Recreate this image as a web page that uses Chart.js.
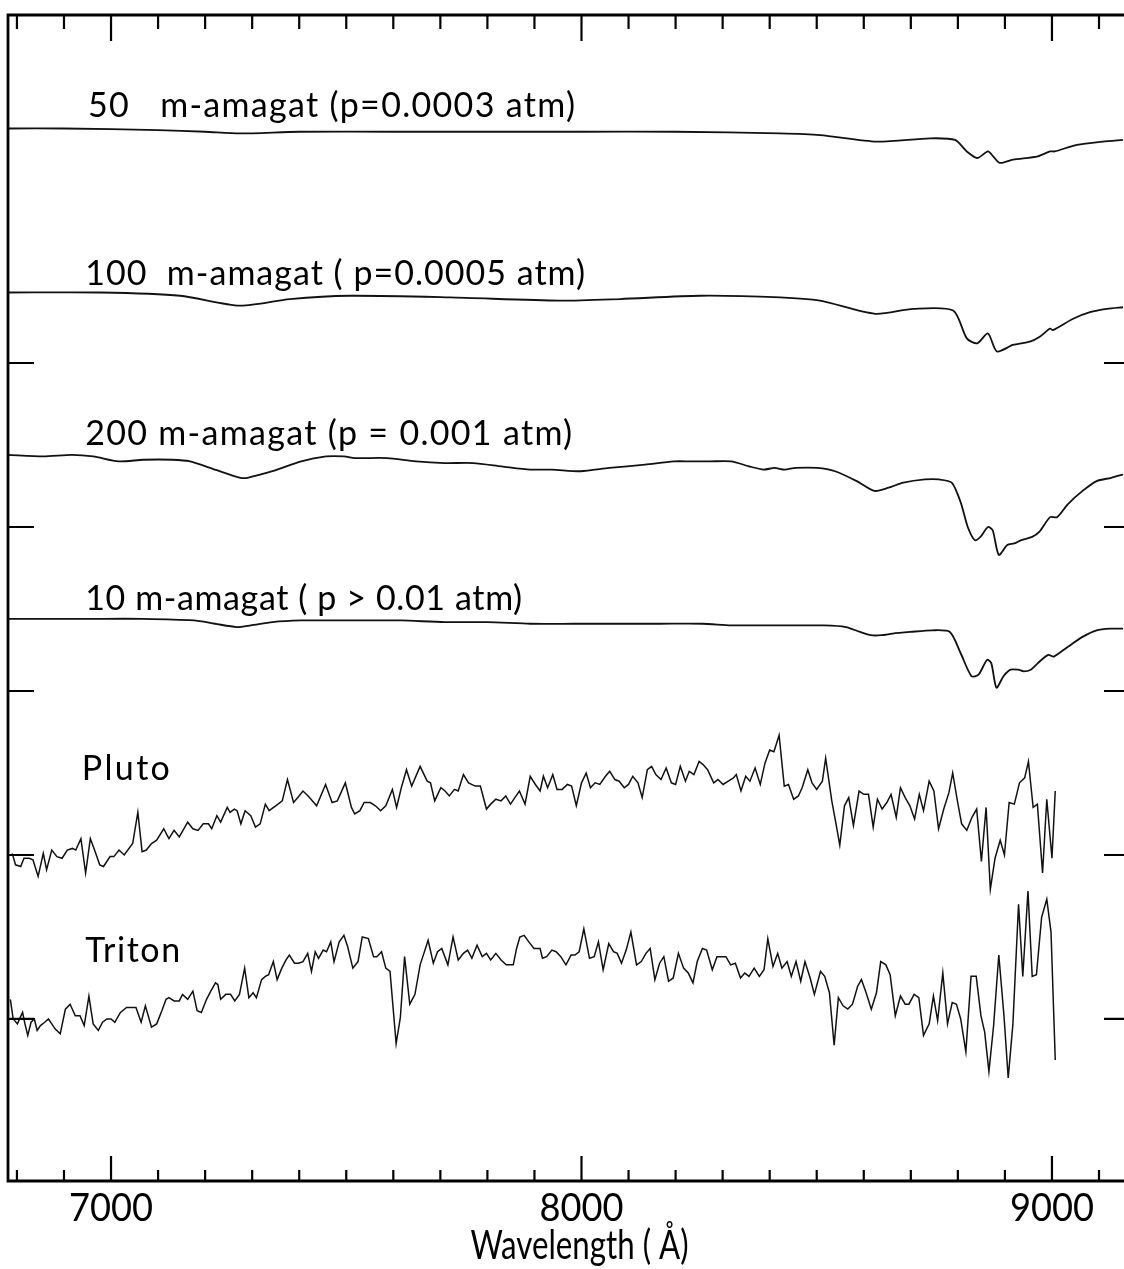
<!DOCTYPE html>
<html><head><meta charset="utf-8">
<script src="https://cdn.jsdelivr.net/npm/chart.js@4.4.1/dist/chart.umd.min.js"></script>
<style>html,body{margin:0;padding:0;background:#fff;}#wrap{width:1124px;height:1269px;position:relative;}</style>
</head><body><div id="wrap"><canvas id="c"></canvas></div>
<script>
// ---- data (wavelength in Angstrom, relative intensity with vertical offsets) ----
const am50_wl = [6781,6900,7100,7200,7274,7400,7600,7800,8000,8200,8422,8507,8628,8741,8794,8819,8841,8864,8875,8889,8917,8970,8996,9006,9053,9108,9151];
const am50_flux = [6.43,6.43,6.42,6.41,6.40,6.41,6.41,6.41,6.41,6.41,6.40,6.39,6.35,6.37,6.36,6.29,6.25,6.29,6.26,6.22,6.24,6.26,6.29,6.29,6.33,6.35,6.36];

const am100_wl = [6781,6977,7147,7274,7380,7508,7720,7954,8082,8252,8422,8507,8624,8705,8790,8819,8841,8864,8883,8917,8953,8974,8996,9002,9045,9081,9117,9151];
const am100_flux = [5.43,5.43,5.41,5.35,5.39,5.41,5.40,5.38,5.39,5.41,5.40,5.38,5.30,5.33,5.32,5.15,5.12,5.18,5.07,5.11,5.13,5.16,5.21,5.20,5.27,5.31,5.33,5.34];

const am200_wl = [6781,6856,6917,6962,7016,7069,7130,7168,7221,7275,7290,7343,7404,7457,7495,7518,7534,7587,7648,7709,7770,7830,7891,7937,7998,8059,8135,8196,8234,8273,8318,8356,8387,8410,8432,8455,8501,8539,8585,8623,8653,8684,8730,8760,8787,8806,8821,8836,8848,8864,8874,8887,8905,8920,8935,8958,8973,8996,9011,9034,9065,9095,9126,9151];
const am200_flux = [4.44,4.43,4.44,4.43,4.40,4.41,4.41,4.40,4.35,4.30,4.30,4.34,4.40,4.43,4.43,4.42,4.42,4.42,4.40,4.39,4.39,4.37,4.35,4.35,4.34,4.36,4.38,4.40,4.40,4.40,4.40,4.37,4.35,4.36,4.35,4.36,4.36,4.34,4.28,4.22,4.24,4.27,4.29,4.29,4.27,4.15,4.00,3.92,3.94,4.00,3.98,3.83,3.89,3.90,3.92,3.94,3.97,4.06,4.06,4.14,4.22,4.28,4.30,4.32];

const am10_wl = [6781,6947,7069,7176,7221,7267,7297,7343,7404,7465,7556,7617,7709,7800,7892,7983,8074,8166,8257,8318,8379,8440,8516,8562,8592,8615,8638,8661,8699,8745,8783,8806,8829,8844,8862,8871,8882,8897,8912,8928,8940,8955,8970,8992,9004,9034,9065,9095,9126,9151];
const am10_flux = [3.44,3.44,3.44,3.43,3.41,3.39,3.40,3.42,3.43,3.43,3.43,3.43,3.42,3.42,3.41,3.41,3.41,3.41,3.41,3.40,3.40,3.40,3.40,3.39,3.36,3.34,3.34,3.35,3.36,3.37,3.36,3.23,3.09,3.10,3.19,3.17,3.02,3.09,3.13,3.13,3.12,3.13,3.17,3.22,3.21,3.27,3.33,3.37,3.38,3.38];

const pluto_wl = [6790,6797,6808,6815,6826,6834,6845,6856,6863,6874,6885,6896,6907,6918,6925,6936,6946,6956,6965,6976,6984,6998,7006,7017,7028,7046,7057,7066,7075,7086,7097,7112,7123,7134,7145,7163,7174,7185,7196,7207,7214,7225,7233,7247,7253,7262,7268,7276,7285,7297,7307,7317,7328,7336,7350,7364,7375,7388,7397,7408,7419,7437,7456,7470,7481,7498,7511,7518,7529,7538,7551,7562,7573,7584,7598,7607,7617,7628,7639,7657,7672,7679,7688,7701,7710,7719,7730,7738,7749,7760,7774,7785,7798,7807,7818,7829,7839,7849,7861,7868,7880,7891,7902,7912,7919,7928,7939,7948,7959,7970,7979,7989,8000,8010,8019,8029,8039,8051,8060,8071,8080,8091,8100,8109,8120,8129,8140,8149,8158,8169,8180,8191,8200,8210,8221,8229,8239,8250,8259,8268,8281,8290,8301,8312,8323,8329,8339,8349,8358,8369,8380,8390,8400,8409,8420,8431,8440,8451,8461,8469,8481,8490,8500,8512,8519,8532,8541,8549,8559,8568,8578,8590,8600,8610,8620,8629,8639,8649,8658,8669,8678,8688,8698,8708,8718,8727,8739,8749,8759,8770,8781,8789,8799,8808,8819,8830,8840,8850,8860,8869,8879,8890,8899,8909,8920,8931,8942,8950,8960,8969,8980,8989,9000,9007];
const pluto_flux = [2.01,1.94,1.93,1.98,1.98,1.97,1.87,2.01,1.91,2.03,1.99,1.98,2.03,2.04,2.03,2.10,1.89,2.10,2.03,1.94,1.93,1.99,1.99,2.03,2.00,2.07,2.26,2.02,2.03,2.07,2.09,2.16,2.10,2.15,2.11,2.20,2.16,2.15,2.19,2.19,2.16,2.24,2.20,2.29,2.26,2.28,2.27,2.19,2.27,2.24,2.17,2.19,2.31,2.27,2.30,2.33,2.46,2.32,2.35,2.39,2.36,2.30,2.43,2.32,2.33,2.44,2.29,2.25,2.27,2.32,2.32,2.30,2.27,2.30,2.40,2.29,2.41,2.52,2.42,2.54,2.45,2.44,2.33,2.41,2.39,2.36,2.40,2.39,2.49,2.44,2.42,2.42,2.28,2.31,2.34,2.33,2.36,2.31,2.36,2.39,2.31,2.48,2.43,2.39,2.48,2.41,2.49,2.40,2.40,2.43,2.42,2.30,2.44,2.50,2.41,2.44,2.43,2.48,2.51,2.46,2.45,2.41,2.43,2.48,2.44,2.35,2.52,2.54,2.49,2.46,2.53,2.44,2.43,2.54,2.45,2.51,2.49,2.57,2.55,2.52,2.44,2.46,2.43,2.45,2.47,2.49,2.39,2.48,2.45,2.53,2.43,2.56,2.64,2.63,2.73,2.42,2.43,2.34,2.36,2.41,2.52,2.44,2.40,2.45,2.59,2.33,2.19,2.06,2.30,2.35,2.18,2.39,2.37,2.37,2.17,2.34,2.28,2.32,2.37,2.23,2.41,2.35,2.30,2.22,2.37,2.27,2.45,2.39,2.16,2.28,2.38,2.50,2.33,2.19,2.15,2.23,2.28,1.96,2.29,1.79,1.98,2.09,2.00,2.32,2.31,2.44,2.47,2.57,2.29,2.31,1.89,2.34,1.98,2.39];

const triton_wl = [6786,6792,6801,6807,6812,6817,6823,6830,6837,6843,6850,6859,6867,6874,6881,6892,6903,6913,6924,6934,6943,6953,6962,6973,6982,6991,7000,7008,7020,7033,7046,7053,7064,7073,7086,7097,7108,7117,7123,7134,7145,7152,7163,7174,7183,7192,7203,7212,7222,7227,7233,7244,7254,7263,7273,7284,7293,7302,7309,7320,7328,7335,7345,7353,7363,7372,7379,7390,7399,7408,7418,7426,7434,7441,7451,7458,7467,7474,7485,7495,7503,7514,7525,7534,7547,7558,7565,7575,7584,7593,7606,7615,7624,7635,7646,7657,7674,7685,7694,7703,7716,7727,7738,7749,7758,7767,7778,7789,7798,7807,7818,7829,7840,7855,7862,7869,7878,7888,7899,7912,7917,7926,7937,7946,7956,7967,7978,7986,7995,8005,8017,8027,8036,8046,8058,8068,8076,8085,8095,8105,8117,8127,8137,8146,8156,8166,8175,8185,8195,8206,8217,8227,8237,8246,8257,8266,8278,8288,8297,8307,8317,8327,8338,8347,8356,8367,8378,8388,8396,8407,8417,8426,8437,8446,8456,8466,8475,8486,8495,8508,8517,8527,8537,8546,8556,8566,8576,8587,8595,8605,8616,8627,8636,8647,8656,8667,8678,8688,8696,8707,8717,8727,8739,8748,8757,8768,8778,8788,8797,8806,8817,8828,8839,8849,8857,8866,8876,8887,8898,8907,8917,8929,8938,8949,8958,8967,8978,8989,8998,9007];
const triton_flux = [1.12,1.00,0.97,1.01,1.04,0.97,0.90,0.98,1.00,0.93,0.96,0.98,1.00,0.97,0.94,0.91,1.06,1.09,1.02,1.02,0.96,1.14,0.97,0.93,0.98,1.00,1.00,0.98,1.04,1.07,1.07,1.07,0.98,1.08,0.95,0.97,1.05,1.12,1.13,1.11,1.11,1.15,1.12,1.17,1.05,1.04,1.12,1.17,1.22,1.21,1.12,1.15,1.15,1.11,1.15,1.31,1.13,1.16,1.13,1.24,1.26,1.27,1.35,1.24,1.31,1.36,1.39,1.34,1.34,1.35,1.40,1.29,1.41,1.37,1.42,1.41,1.47,1.35,1.47,1.51,1.44,1.31,1.35,1.50,1.49,1.38,1.38,1.41,1.31,1.29,0.85,1.01,1.38,1.09,1.15,1.33,1.48,1.34,1.41,1.43,1.33,1.50,1.36,1.40,1.42,1.37,1.45,1.38,1.40,1.36,1.40,1.36,1.33,1.33,1.43,1.50,1.51,1.47,1.43,1.43,1.37,1.38,1.42,1.41,1.38,1.33,1.39,1.39,1.41,1.55,1.37,1.38,1.47,1.30,1.46,1.41,1.40,1.34,1.42,1.53,1.33,1.35,1.40,1.43,1.24,1.34,1.38,1.23,1.25,1.40,1.31,1.28,1.22,1.35,1.43,1.42,1.30,1.38,1.38,1.38,1.33,1.34,1.25,1.28,1.26,1.31,1.26,1.30,1.49,1.32,1.40,1.31,1.35,1.26,1.35,1.23,1.35,1.25,1.15,1.29,1.26,1.16,0.84,1.13,1.08,1.06,1.09,1.20,1.24,1.16,1.06,1.16,1.35,1.33,1.27,1.02,1.14,1.09,1.09,1.15,1.13,0.90,0.97,1.14,0.99,1.28,0.97,1.10,1.09,1.00,0.80,1.26,1.26,1.02,0.92,0.68,0.96,1.39,1.02,0.64,0.97,1.70,1.26,1.78,1.26,1.27,1.62,1.73,1.53,0.75];

const xTickValues = [7000, 8000, 9000];
const xTickLabels = ['7000', '8000', '9000'];
const xMinorTicks = [6800,6900,7000,7100,7200,7300,7400,7500,7600,7700,7800,7900,8000,8100,8200,8300,8400,8500,8600,8700,8800,8900,9000,9100];
const yTicks = [1, 2, 3, 4, 5];
const xTitle = 'Wavelength ( Å)';
const seriesNames = ['50   m-amagat (p=0.0003 atm)', '100  m-amagat ( p=0.0005 atm)', '200 m-amagat (p = 0.001 atm)', '10 m-amagat ( p > 0.01 atm)', 'Pluto', 'Triton'];

// ---- label placement (data coordinates) and styling ----
const labelAnchorWl = [6951, 6945, 6945, 6945, 6938, 6945];
const labelAnchorY = [6.50, 5.476, 4.50, 3.494, 2.457, 1.348];
const labelWidthPx = [487, 500, 487, 437, 88, 95];
const FONT = 'Lato, "DejaVu Sans", sans-serif';

function pts(wl, fl) { return wl.map((w, i) => ({x: w, y: fl[i]})); }
const series = [
  {wl: am50_wl, fl: am50_flux, smooth: true},
  {wl: am100_wl, fl: am100_flux, smooth: true},
  {wl: am200_wl, fl: am200_flux, smooth: true},
  {wl: am10_wl, fl: am10_flux, smooth: true},
  {wl: pluto_wl, fl: pluto_flux, smooth: false},
  {wl: triton_wl, fl: triton_flux, smooth: false}
];

function fitText(ctx, t, px, py, width, align) {
  ctx.letterSpacing = '0px';
  const w = ctx.measureText(t).width;
  const sx = width / w;
  ctx.save();
  ctx.translate(px, py);
  ctx.scale(sx, 1);
  ctx.textAlign = align;
  ctx.fillText(t, 0, 0);
  ctx.restore();
}

const framePlugin = {
  id: 'frame',
  afterDraw(chart) {
    const {ctx, chartArea: a, scales} = chart;
    const x = scales.x, y = scales.y;
    ctx.save();
    ctx.strokeStyle = '#000';
    ctx.lineWidth = 2.8;
    ctx.lineCap = 'butt';
    // frame: left, top and bottom (right edge lies at the picture border)
    ctx.beginPath();
    ctx.moveTo(a.right + 2, a.top); ctx.lineTo(a.left, a.top);
    ctx.lineTo(a.left, a.bottom); ctx.lineTo(a.right + 2, a.bottom);
    ctx.stroke();
    ctx.lineWidth = 2.2;
    for (const w of xMinorTicks) {
      const px = x.getPixelForValue(w);
      const major = xTickValues.includes(w);
      ctx.beginPath();
      ctx.moveTo(px, a.bottom); ctx.lineTo(px, a.bottom - (major ? 25 : 11));
      ctx.moveTo(px, a.top); ctx.lineTo(px, a.top + (major ? 26 : 14));
      ctx.stroke();
    }
    for (const v of yTicks) {
      const py = y.getPixelForValue(v);
      ctx.beginPath();
      ctx.moveTo(a.left, py); ctx.lineTo(a.left + 26, py);
      ctx.moveTo(a.right + 2, py); ctx.lineTo(a.right - 19, py);
      ctx.stroke();
    }
    ctx.fillStyle = '#000';
    ctx.textBaseline = 'alphabetic';
    // x tick labels
    ctx.font = '39px ' + FONT;
    xTickValues.forEach((v, i) => {
      fitText(ctx, xTickLabels[i], x.getPixelForValue(v), a.bottom + 40, 84, 'center');
    });
    // axis title
    ctx.font = '40px ' + FONT;
    fitText(ctx, xTitle, x.getPixelForValue(8000) - 2, a.bottom + 78, 218, 'center');
    // series labels
    ctx.font = '34px ' + FONT;
    ctx.textAlign = 'left';
    seriesNames.forEach((t, i) => {
      const px = x.getPixelForValue(labelAnchorWl[i]);
      const py = y.getPixelForValue(labelAnchorY[i]);
      ctx.letterSpacing = '0px';
      const w = ctx.measureText(t).width;
      const n = [...t].length;
      const ls = (labelWidthPx[i] - w) / Math.max(1, n - 1);
      ctx.letterSpacing = ls.toFixed(2) + 'px';
      ctx.fillText(t, px, py);
    });
    ctx.letterSpacing = '0px';
    ctx.restore();
  }
};

new Chart(document.getElementById('c'), {
  type: 'line',
  data: {
    datasets: series.map((s, i) => ({
      label: seriesNames[i],
      data: pts(s.wl, s.fl),
      borderColor: '#111',
      borderWidth: s.smooth ? 1.8 : 1.5,
      pointRadius: 0,
      tension: s.smooth ? 0.25 : 0,
      fill: false
    }))
  },
  options: {
    responsive: true,
    maintainAspectRatio: false,
    animation: false,
    layout: {padding: {left: 8, top: 15, right: 1, bottom: 0}},
    plugins: {legend: {display: false}, tooltip: {enabled: false}},
    scales: {
      x: {
        type: 'linear', min: 6781, max: 9151, position: 'bottom',
        grid: {display: false, drawTicks: false},
        border: {display: false},
        ticks: {display: false, stepSize: 1000, includeBounds: false},
        title: {display: false},
        afterFit: (s) => { s.height = 88; s.paddingLeft = 0; s.paddingRight = 0; }
      },
      y: {display: false, min: 0.012, max: 7.122}
    }
  },
  plugins: [framePlugin]
});
</script>
</body></html>
